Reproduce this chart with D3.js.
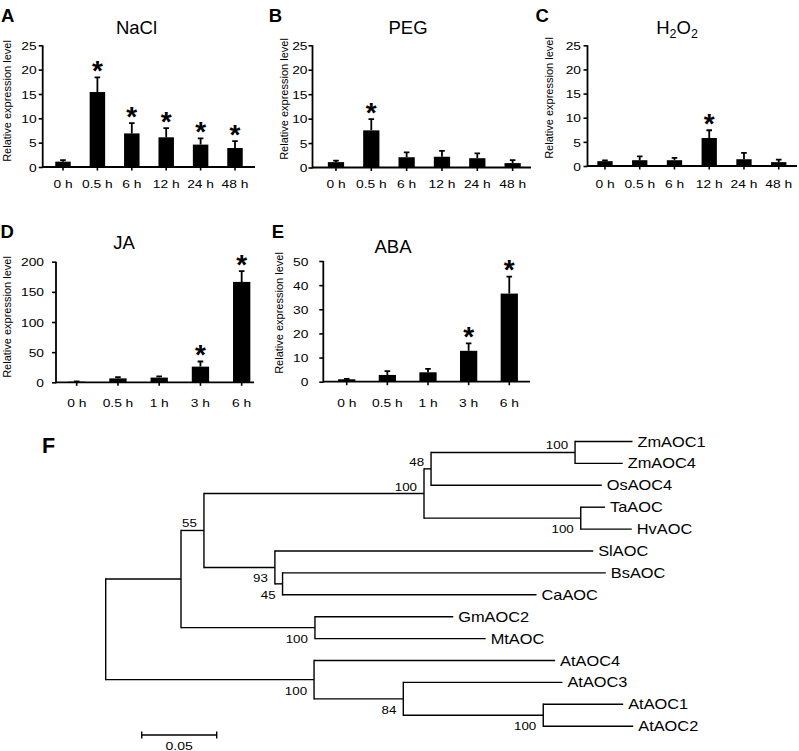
<!DOCTYPE html>
<html>
<head>
<meta charset="utf-8">
<script src="https://cdn.jsdelivr.net/npm/d3@7"></script>
<style>
  html, body { margin: 0; padding: 0; background: #fff; }
  svg { display: block; }
  text { font-family: "Liberation Sans", Arial, Helvetica, sans-serif; fill: #000; }
</style>
</head>
<body>
<svg id="chart" width="799" height="751"></svg>
<script>
// ---------------- DATA ----------------
const catsStress = ["0 h", "0.5 h", "6 h", "12 h", "24 h", "48 h"];
const catsHormone = ["0 h", "0.5 h", "1 h", "3 h", "6 h"];

const naclMean = [1.1, 15.4, 6.9, 6.1, 4.6, 3.9];
const naclErr  = [0.3, 3.0, 2.1, 1.9, 1.3, 1.4];
const naclSig  = [0, 1, 1, 1, 1, 1];

const pegMean = [1.1, 7.6, 2.1, 2.2, 1.9, 0.9];
const pegErr  = [0.3, 2.3, 1.0, 1.2, 1.0, 0.6];
const pegSig  = [0, 1, 0, 0, 0, 0];

const h2o2Mean = [1.0, 1.2, 1.2, 5.8, 1.4, 0.8];
const h2o2Err  = [0.15, 0.8, 0.5, 1.6, 1.3, 0.5];
const h2o2Sig  = [0, 0, 0, 1, 0, 0];

const jaMean = [1.0, 6.5, 7.8, 26, 166.5];
const jaErr  = [0.5, 2.0, 2.0, 8.5, 18];
const jaSig  = [0, 0, 0, 1, 1];

const abaMean = [1.0, 2.8, 3.9, 12.8, 36.5];
const abaErr  = [0.2, 1.6, 1.4, 3.1, 7.0];
const abaSig  = [0, 0, 0, 1, 1];

const ticks25 = [0, 5, 10, 15, 20, 25];
const ticks200 = [0, 50, 100, 150, 200];
const ticks50 = [0, 10, 20, 30, 40, 50];

const yAxisTitle = "Relative expression level";

// Phylogenetic tree (id, parent, branch length, bootstrap)
const treeIds     = ["root","nA","nB","nMono","n48","nZm","ZmAOC1","ZmAOC4","OsAOC4","nTaHv","TaAOC","HvAOC",
                     "n93","SlAOC","n45","BsAOC","CaAOC","nGmMt","GmAOC2","MtAOC",
                     "nAt","AtAOC4","n84","AtAOC3","nAt12","AtAOC1","AtAOC2"];
const treeParents = [null,"root","nA","nB","nMono","n48","nZm","nZm","n48","nMono","nTaHv","nTaHv",
                     "nB","n93","n93","n45","n45","nA","nGmMt","nGmMt",
                     "root","nAt","nAt","n84","n84","nAt12","nAt12"];
const treeLengths = [0, 0.0502, 0.0153, 0.1467, 0.0047, 0.0960, 0.0383, 0.0318, 0.1138, 0.1045, 0.0162, 0.0340,
                     0.0473, 0.2122, 0.0051, 0.2155, 0.1693, 0.0893, 0.0922, 0.1138,
                     0.1389, 0.1607, 0.0595, 0.1061, 0.0933, 0.0533, 0.0600];
const treeSupport = [null, null, 55, 100, 48, 100, null, null, null, 100, null, null,
                     93, null, 45, null, null, 100, null, null,
                     100, null, 84, null, 100, null, null];
const scaleBarValue = 0.05;

// ---------------- LAYOUT ----------------
const svg = d3.select("#chart");
const FONT = '"Liberation Sans", Arial, Helvetica, sans-serif';

function stretchText(g, x, y, str, size, sx, anchor, weight) {
  return g.append("text")
    .attr("transform", `translate(${x},${y}) scale(${sx},1)`)
    .attr("text-anchor", anchor || "start")
    .style("font-size", size + "px")
    .style("font-weight", weight || "normal")
    .text(str);
}

const panels = [
  {letter:"A", lx:1.0, ly:21.7, title:"NaCl", tx:136.5, ty:33.5, ax:42.7, y0:167, yTop:45.3, band:[45.8,252.2], pad:0.55, axEnd:255, ylx:10.7, yly:101, catY:188.5, gap:6,
   cats:catsStress, mean:naclMean, err:naclErr, sig:naclSig, ticks:ticks25},
  {letter:"B", lx:268.7, ly:21.7, title:"PEG", tx:408, ty:33.5, ax:312.5, y0:167.5, yTop:45.3, band:[318.3,530.3], pad:0.54, axEnd:531, ylx:288, yly:99, catY:188.5, gap:5,
   cats:catsStress, mean:pegMean, err:pegErr, sig:pegSig, ticks:ticks25},
  {letter:"C", lx:535.5, ly:21.7, title:"H2O2", tx:677, ty:33.5, ax:587.5, y0:166, yTop:45.3, band:[587.6,796.1], pad:0.56, axEnd:797, ylx:553, yly:98, catY:188.5, gap:6.5,
   cats:catsStress, mean:h2o2Mean, err:h2o2Err, sig:h2o2Sig, ticks:ticks25},
  {letter:"D", lx:0.5, ly:238.3, title:"JA", tx:124, ty:249, ax:56, y0:382.3, yTop:261.7, band:[56.1,262.3], pad:0.58, axEnd:254, ylx:11.3, yly:317, catY:407, gap:12,
   cats:catsHormone, mean:jaMean, err:jaErr, sig:jaSig, ticks:ticks200},
  {letter:"E", lx:271.7, ly:238.3, title:"ABA", tx:393, ty:253, ax:323.3, y0:381.7, yTop:261, band:[326.4,529.6], pad:0.575, axEnd:530, ylx:283, yly:313, catY:407, gap:15,
   cats:catsHormone, mean:abaMean, err:abaErr, sig:abaSig, ticks:ticks50}
];

const SX = 1.2; // horizontal stretch of small labels

panels.forEach(p => {
  const g = svg.append("g");
  const maxT = p.ticks[p.ticks.length - 1];
  const y = d3.scaleLinear().domain([0, maxT]).range([p.y0, p.yTop]);
  const x = d3.scaleBand().domain(p.cats).range(p.band).paddingInner(p.pad).paddingOuter(p.pad / 2);

  // panel letter
  g.append("text").attr("x", p.lx).attr("y", p.ly)
    .style("font-size", "18.5px").style("font-weight", "bold").text(p.letter);

  // title
  if (p.title === "H2O2") {
    const t = g.append("text").attr("x", p.tx).attr("y", p.ty).attr("text-anchor", "middle").style("font-size", "18.5px");
    t.append("tspan").text("H");
    t.append("tspan").attr("dy", 4).style("font-size", "12.5px").text("2");
    t.append("tspan").attr("dy", -4).text("O");
    t.append("tspan").attr("dy", 4).style("font-size", "12.5px").text("2");
  } else {
    g.append("text").attr("x", p.tx).attr("y", p.ty).attr("text-anchor", "middle")
      .style("font-size", "18.5px").text(p.title);
  }

  // y axis title
  g.append("text").attr("transform", `translate(${p.ylx},${p.yly}) rotate(-90)`)
    .attr("text-anchor", "middle").style("font-size", "11px").text(yAxisTitle);

  // bars
  const rows = p.cats.map((c, i) => ({c, m: p.mean[i], e: p.err[i], s: p.sig[i]}));
  g.selectAll("rect.bar").data(rows).join("rect")
    .attr("class", "bar")
    .attr("x", d => x(d.c)).attr("width", x.bandwidth())
    .attr("y", d => y(d.m)).attr("height", d => y(0) - y(d.m))
    .attr("fill", "#000");

  // error bars (upper only)
  const cap = 2.8;
  g.selectAll("path.err").data(rows).join("path")
    .attr("class", "err")
    .attr("d", d => {
      const cx = x(d.c) + x.bandwidth() / 2;
      return `M${cx},${y(d.m)}V${y(d.m + d.e)}M${cx - cap},${y(d.m + d.e)}H${cx + cap}`;
    })
    .attr("stroke", "#000").attr("stroke-width", 1.8).attr("fill", "none");

  // significance stars
  g.selectAll("text.star").data(rows.filter(d => d.s)).join("text")
    .attr("class", "star")
    .attr("x", d => x(d.c) + x.bandwidth() / 2)
    .attr("y", d => y(d.m + d.e) + 2.5)
    .attr("text-anchor", "middle")
    .style("font-size", "28px").style("font-weight", "bold").text("*");

  // y axis
  const yAxis = d3.axisLeft(y).tickValues(p.ticks).tickSize(4).tickSizeOuter(0).tickFormat(d3.format("d"));
  const yg = g.append("g").attr("transform", `translate(${p.ax},0)`).call(yAxis);
  yg.select(".domain").remove();
  yg.selectAll(".tick line").attr("stroke", "#000").attr("stroke-width", 1.6);
  yg.selectAll(".tick text")
    .attr("x", -p.gap / SX).attr("dy", "0.36em")
    .attr("transform", `scale(${SX},1)`)
    .style("font-family", FONT).style("font-size", "11.5px").attr("fill", "#000");
  g.append("line").attr("x1", p.ax).attr("x2", p.ax).attr("y1", y(0) + 0.9).attr("y2", y(maxT))
    .attr("stroke", "#000").attr("stroke-width", 1.8);

  // x axis
  const xAxis = d3.axisBottom(x).tickSize(3.5).tickSizeOuter(0);
  const xg = g.append("g").attr("transform", `translate(0,${y(0)})`).call(xAxis);
  xg.select(".domain").remove();
  xg.selectAll(".tick line").attr("stroke", "#000").attr("stroke-width", 1.6);
  xg.selectAll(".tick text")
    .attr("y", p.catY - p.y0).attr("dy", 0)
    .attr("transform", `scale(${SX},1)`)
    .style("font-family", FONT).style("font-size", "11.5px").attr("fill", "#000");
  g.append("line").attr("x1", p.ax).attr("x2", p.axEnd).attr("y1", y(0)).attr("y2", y(0))
    .attr("stroke", "#000").attr("stroke-width", 1.8);
});

// ---------------- TREE ----------------
const tg = svg.append("g");
tg.append("text").attr("x", 42).attr("y", 453.3)
  .style("font-size", "21.5px").style("font-weight", "bold").text("F");

const treeRows = treeIds.map((id, i) => ({id, parent: treeParents[i], len: treeLengths[i], support: treeSupport[i]}));
const root = d3.stratify().id(d => d.id).parentId(d => d.parent)(treeRows);
root.each(n => { n.dist = (n.parent ? n.parent.dist : 0) + n.data.len; });

const leaves = root.leaves();
const xT = d3.scaleLinear().domain([0, scaleBarValue]).range([105.7, 180.7]);
const yT = d3.scaleLinear().domain([0, leaves.length - 1]).range([441.5, 726.2]);
leaves.forEach((l, i) => { l.yy = yT(i); });
root.eachAfter(n => { if (n.children) n.yy = d3.mean(n.children, c => c.yy); });

const lineStyle = sel => sel.attr("stroke", "#000").attr("stroke-width", 1.4).attr("fill", "none");

// horizontal branches
tg.selectAll("line.hbr").data(root.descendants().filter(n => n.parent)).join("line")
  .attr("class", "hbr")
  .attr("x1", n => xT(n.parent.dist)).attr("x2", n => xT(n.dist))
  .attr("y1", n => n.yy).attr("y2", n => n.yy)
  .call(lineStyle);
// vertical connectors
tg.selectAll("line.vbr").data(root.descendants().filter(n => n.children)).join("line")
  .attr("class", "vbr")
  .attr("x1", n => xT(n.dist)).attr("x2", n => xT(n.dist))
  .attr("y1", n => n.children[0].yy - 0.7).attr("y2", n => n.children[n.children.length - 1].yy + 0.7)
  .call(lineStyle);

// leaf labels
leaves.forEach(l => {
  stretchText(tg, xT(l.dist) + 5, l.yy + 5, l.id, 14, 1.17, "start");
});

// bootstrap values
const labelAbove = new Set(["nZm", "n48", "nMono", "nB"]);
root.descendants().filter(n => n.data.support != null).forEach(n => {
  const above = labelAbove.has(n.id);
  stretchText(tg, xT(n.dist) - 7, above ? n.yy - 3 : n.yy + 15, String(n.data.support), 11.5, 1.16, "end");
});

// scale bar
const sbX = 141.7, sbY = 735;
const sbLen = xT(scaleBarValue) - xT(0);
tg.append("path")
  .attr("d", `M${sbX},${sbY}H${sbX + sbLen}M${sbX},${sbY - 3.5}V${sbY + 3.5}M${sbX + sbLen},${sbY - 3.5}V${sbY + 3.5}`)
  .call(lineStyle);
stretchText(tg, sbX + sbLen / 2, 749.5, String(scaleBarValue), 11.5, 1.22, "middle");
</script>
</body>
</html>
